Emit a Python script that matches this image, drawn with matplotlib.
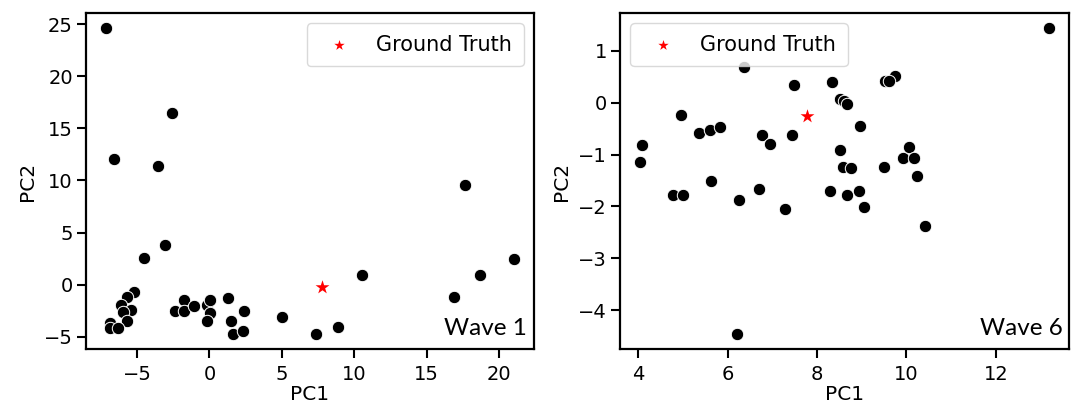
import matplotlib
import numpy as np

matplotlib.use("Agg")

from matplotlib import pyplot as plt  # noqa: E402

# wave 1 projections
w1_pc1 = [-7.12, -2.62, -6.62, -3.57, 17.67, -3.05, -4.5, 21.0, 10.5, 18.64,
          16.88, -5.2, -5.7, -6.1, -5.4, -6.0, -5.7, -6.9, -6.9, -6.3,
          -2.4, -1.75, -1.75, -1.1, -0.2, 0.05, 0.05, -0.2, 1.3, 1.5,
          1.64, 2.34, 2.41, 5.0, 7.34, 8.9]
w1_pc2 = [24.6, 16.5, 12.05, 11.4, 9.55, 3.85, 2.6, 2.47, 0.9, 0.9,
          -1.15, -0.65, -1.2, -1.9, -2.4, -2.6, -3.5, -3.7, -4.15, -4.15,
          -2.55, -1.5, -2.55, -2.05, -1.9, -1.5, -2.7, -3.45, -1.27, -3.5,
          -4.7, -4.45, -2.55, -3.1, -4.7, -4.05]
w1_truth = (7.78, -0.2)

# wave 6 projections
w6_pc1 = [13.18, 6.37, 7.48, 8.33, 9.74, 9.53, 9.6, 8.52, 8.6, 8.67,
          4.95, 5.36, 5.61, 5.84, 6.78, 6.94, 7.43, 8.96, 4.09, 4.05,
          8.52, 8.57, 8.75, 9.49, 9.92, 10.05, 10.16, 10.24, 5.62, 4.77,
          5.0, 6.71, 6.26, 7.28, 8.28, 8.66, 8.95, 9.06, 10.41, 6.22]
w6_pc2 = [1.43, 0.68, 0.34, 0.39, 0.52, 0.42, 0.41, 0.07, 0.03, -0.02,
          -0.23, -0.58, -0.52, -0.47, -0.63, -0.79, -0.63, -0.45, -0.82, -1.14,
          -0.91, -1.24, -1.26, -1.24, -1.07, -0.86, -1.07, -1.42, -1.51, -1.78,
          -1.77, -1.66, -1.87, -2.05, -1.70, -1.77, -1.71, -2.01, -2.38, -4.45]
w6_truth = (7.77, -0.26)

plt.rcParams["font.size"] = 14

fig = plt.figure(figsize=(10.72, 4.08), dpi=100)
ax1 = fig.add_axes([0.0802, 0.1446, 0.418, 0.8235])
ax2 = fig.add_axes([0.5784, 0.1446, 0.4188, 0.8235])

panels = [
    (ax1, w1_pc1, w1_pc2, w1_truth, "Wave 1", "upper right"),
    (ax2, w6_pc1, w6_pc2, w6_truth, "Wave 6", "upper left"),
]

for ax, x, y, truth, name, loc in panels:
    ax.scatter(x, y, s=80, c="black", edgecolors="white", linewidths=0.7, zorder=2)
    ax.scatter([truth[0]], [truth[1]], s=110, c="red", marker="*",
               linewidths=0, zorder=3, label="Ground Truth")
    ax.set_xlabel("PC1", fontsize=14.5, labelpad=1)
    ax.set_ylabel("PC2", fontsize=14.5, labelpad=5)
    ax.tick_params(length=6.5, width=1.5, labelsize=14, pad=3)
    ax.tick_params(axis="x", pad=5)
    for sp in ax.spines.values():
        sp.set_linewidth(1.6)
    ax.text(0.985, 0.03, name, transform=ax.transAxes, ha="right", va="bottom",
            fontsize=17.5, family="Lato")
    leg = ax.legend(loc=loc, fontsize=15, markerscale=0.75, borderpad=0.55,
                    borderaxespad=0.5)
    leg.get_frame().set_edgecolor("#d0d0d0")

fig.savefig("out.png", dpi=100)
plt.close("all")
